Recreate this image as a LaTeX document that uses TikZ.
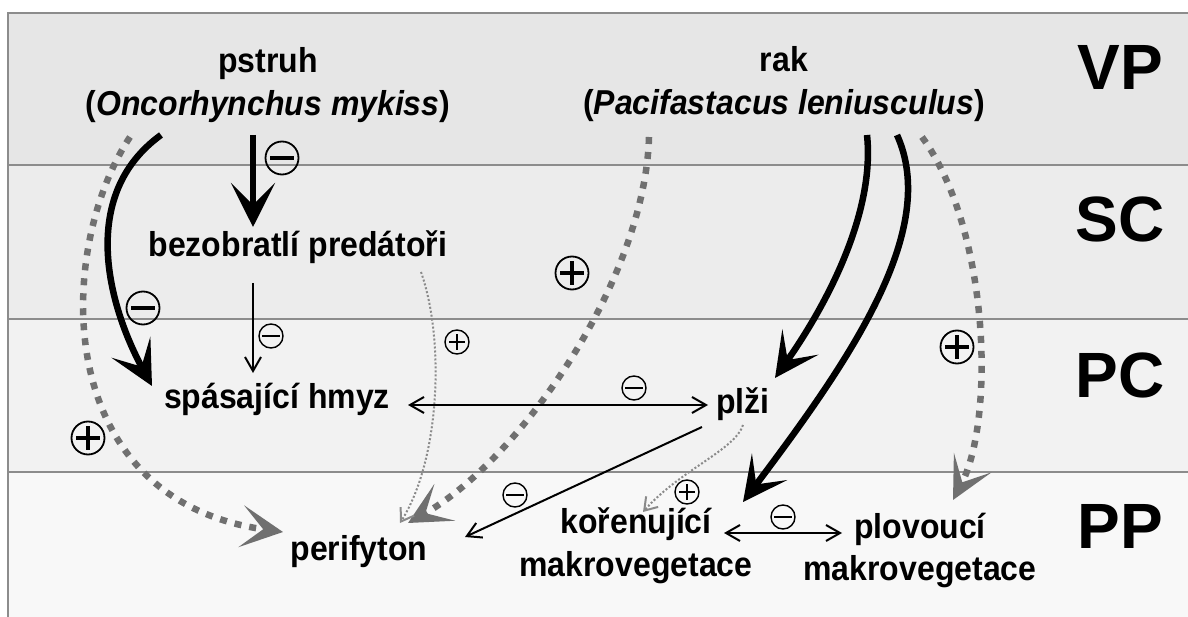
\documentclass[tikz,border=0pt]{standalone}
\usepackage{fontspec}
\setmainfont{Liberation Sans}
\usetikzlibrary{arrows.meta}
% centred two-line label whose baseline is the first line's baseline
\newcommand\twoline[3]{\vtop{\baselineskip=#1\halign{\hfil##\hfil\cr#2\cr#3\cr}}}
% labels are set slightly taller than wide
\newcommand\tl[1]{\scalebox{1}[1.08]{#1}}
\definecolor{bandVP}{HTML}{E6E6E6}
\definecolor{bandSC}{HTML}{ECECEC}
\definecolor{bandPC}{HTML}{F2F2F2}
\definecolor{bandPP}{HTML}{F8F8F8}
\definecolor{rule}{HTML}{8C8C8C}
\definecolor{infgray}{HTML}{707070}
\definecolor{thingray}{HTML}{8A8A8A}
\begin{document}
\begin{tikzpicture}[x=1pt,y=-1pt,
  lbl/.style={font=\fontsize{32}{40}\selectfont\bfseries, inner sep=0pt, anchor=base},
  zone/.style={font=\fontsize{64}{64}\selectfont\bfseries, inner sep=0pt, anchor=base},
  heavy/.style={line width=6.5pt, -{Stealth[length=44pt,width=44pt,inset=22pt]}},
  infl/.style={draw=infgray, line width=6.5pt, dash pattern=on 7pt off 8pt,
    -{Stealth[length=42pt,width=42pt,inset=22pt]}},
  thininfl/.style={draw=thingray, line width=2pt, dash pattern=on 2pt off 2pt,
    -{Straight Barb[length=12pt,width=16pt]}},
  thinarr/.style={line width=2pt, -{Straight Barb[length=14pt,width=16pt]}},
  thinboth/.style={line width=2pt, {Straight Barb[length=14pt,width=16pt]}-{Straight Barb[length=14pt,width=16pt]}},
  bigminus/.style={circle, draw, line width=1.8pt, minimum size=33pt, inner sep=0pt,
    path picture={\fill ([shift={(-12pt,-2pt)}]path picture bounding box.center) rectangle ([shift={(12pt,2pt)}]path picture bounding box.center);}},
  bigplus/.style={circle, draw, line width=1.8pt, minimum size=33pt, inner sep=0pt,
    path picture={\fill ([shift={(-12pt,-2pt)}]path picture bounding box.center) rectangle ([shift={(12pt,2pt)}]path picture bounding box.center);
                  \fill ([shift={(-2pt,-12pt)}]path picture bounding box.center) rectangle ([shift={(2pt,12pt)}]path picture bounding box.center);}},
  smallminus/.style={circle, draw, line width=1.4pt, minimum size=24pt, inner sep=0pt,
    path picture={\draw[line width=1.4pt] ([xshift=-9pt]path picture bounding box.center) -- ([xshift=9pt]path picture bounding box.center);}},
  smallplus/.style={circle, draw, line width=1.4pt, minimum size=24pt, inner sep=0pt,
    path picture={\draw[line width=2pt] ([xshift=-8pt]path picture bounding box.center) -- ([xshift=8pt]path picture bounding box.center)
                  ([yshift=-8pt]path picture bounding box.center) -- ([yshift=8pt]path picture bounding box.center);}}
]
\useasboundingbox (0,0) rectangle (1188,617);

% horizontal zones
\fill[white] (0,0) rectangle (1188,617);
\fill[bandVP] (8,13) rectangle (1188,165);
\fill[bandSC] (8,165) rectangle (1188,319);
\fill[bandPC] (8,319) rectangle (1188,472);
\fill[bandPP] (8,472) rectangle (1188,617);
\draw[rule, line width=2pt] (1188,13) -- (8,13) -- (8,617);
\foreach \yy in {165,319,472} \draw[rule, line width=2pt] (8,\yy) -- (1188,\yy);

\node[zone] (zVP) at (1120,90) {VP};
\node[zone] (zSC) at (1120,242) {SC};
\node[zone] (zPC) at (1120,397) {PC};
\node[zone] (zPP) at (1120,548) {PP};

% organisms
\node[lbl] (trout) at (268,73) {\tl{\twoline{39pt}{pstruh}{(\textit{Oncorhynchus mykiss})}}};
\node[lbl] (crayfish) at (784,72) {\tl{\twoline{39pt}{rak}{(\textit{Pacifastacus leniusculus})}}};
\node[lbl] (pred) at (298,257) {\tl{bezobratlí predátoři}};
\node[lbl] (insects) at (277,408) {\tl{spásající hmyz}};
\node[lbl] (snails) at (743,413) {\tl{plži}};
\node[lbl] (peri) at (359,560) {\tl{perifyton}};
\node[lbl] (rooted) at (636,533) {\tl{\twoline{40.5pt}{kořenující}{makrovegetace}}};
\node[lbl] (floating) at (920,538) {\tl{\twoline{39pt}{plovoucí}{makrovegetace}}};

% indirect (positive) effects
\draw[infl] ([shift={(-138,64)}]trout.base) .. controls (55,250) and (50,500) .. ([shift={(-76,-28)}]peri.base);
\draw[infl] ([shift={(-135,65)}]crayfish.base) .. controls (645,280) and (520,460) .. ([shift={(49,-37)}]peri.base);
\draw[infl] ([shift={(138,65)}]crayfish.base) .. controls (990,230) and (995,420) .. ([shift={(33,-38)}]floating.base);
\draw[thininfl] ([shift={(123,15)}]pred.base) .. controls (445,340) and (440,460) .. ([shift={(41,-37)}]peri.base);
\draw[thininfl] ([shift={(0,12)}]snails.base) .. controls (735,450) and (680,470) .. ([shift={(7,-21)}]rooted.base);

% strong direct effects
\draw[heavy] ([shift={(-15,62)}]trout.base) -- ([shift={(-45,-30)}]pred.base);
\draw[heavy] ([shift={(-107,62)}]trout.base) .. controls (78,195) and (108,305) .. ([shift={(-125,-22)}]insects.base);
\draw[heavy] ([shift={(83,63)}]crayfish.base) .. controls (875,210) and (830,300) .. ([shift={(32,-35)}]snails.base);
\draw[heavy] ([shift={(113,63)}]crayfish.base) .. controls (940,230) and (850,360) .. ([shift={(107,-31)}]rooted.base);

% weak direct effects
\draw[thinarr] ([shift={(-45,26)}]pred.base) -- ([shift={(-24,-35)}]insects.base);
\draw[thinboth] ([shift={(131,-3)}]insects.base) -- ([shift={(-35,-8)}]snails.base);
\draw[thinarr] ([shift={(-41,14)}]snails.base) -- ([shift={(106,-23)}]peri.base);
\draw[thinboth] ([shift={(88,0)}]rooted.base) -- ([shift={(-78,-5)}]floating.base);

% signs of the effects
\node[bigminus] (s1) at (282,158) {};
\node[bigminus] (s2) at (143,308) {};
\node[bigplus] (s3) at (88,438) {};
\node[bigplus] (s4) at (572,273) {};
\node[bigplus] (s5) at (957,347) {};
\node[smallminus] (s6) at (271,336) {};
\node[smallminus] (s7) at (634,388) {};
\node[smallminus] (s8) at (515,495) {};
\node[smallminus] (s9) at (783,517) {};
\node[smallplus] (s10) at (457,342) {};
\node[smallplus] (s11) at (687,492) {};
\end{tikzpicture}
\end{document}
